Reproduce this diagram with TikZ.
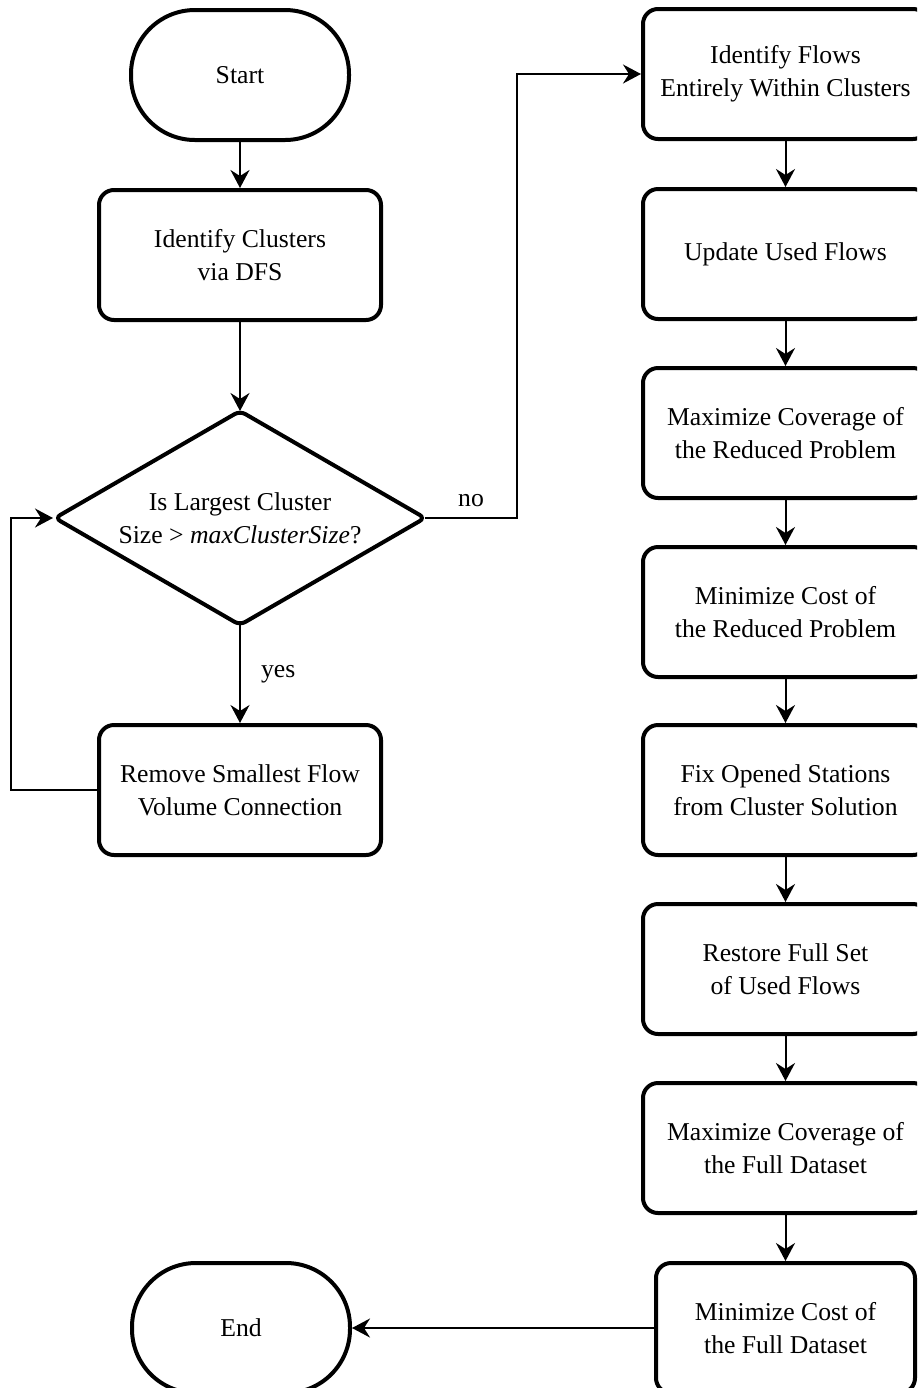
\documentclass[tikz,border=0pt]{standalone}
\usepackage{fontspec}
\setmainfont{Liberation Serif}
\usetikzlibrary{arrows.meta,shapes.geometric}

\begin{document}
\begin{tikzpicture}[
  x=0.5pt, y=-0.5pt,
  font=\fontsize{12.85}{16.5}\selectfont,
  proc/.style={draw=black, line width=2pt, fill=white, rounded corners=7.5pt,
               minimum width=141pt, minimum height=65pt, align=center, inner sep=0pt},
  widebox/.style={proc, minimum width=142.5pt},
  term/.style={proc, rounded corners=32pt, minimum width=109pt},
  decide/.style={draw=black, line width=2pt, fill=white, diamond, aspect=1.73,
                 rounded corners=3pt, minimum width=185pt, minimum height=107pt,
                 align=center, inner sep=0pt, outer sep=0pt},
  arr/.style={-{Stealth[length=9pt,width=9.5pt,inset=3pt]}, line width=1pt},
  lbl/.style={inner sep=0pt},
]
\useasboundingbox (0,0) rectangle (917,1388);
\clip (0,0) rectangle (917,1388);

% ======================= left column =======================
\node[term]   (S)  at (240,75)   {Start};
\node[proc]   (C)  at (240,255)  {Identify Clusters\\via DFS};
\node[decide] (D)  at (240,518)  {Is Largest Cluster\\Size > \textit{maxClusterSize}?};
\node[proc]   (R)  at (240,790)  {Remove Smallest Flow\\Volume Connection};
\node[term]   (E)  at (241,1328) {End};

% ======================= right column =======================
\node[widebox] (F1) at (785.5,74)   {Identify Flows\\Entirely Within Clusters};
\node[widebox] (F2) at (785.5,254)  {Update Used Flows};
\node[widebox] (F3) at (785.5,433)  {Maximize Coverage of\\the Reduced Problem};
\node[widebox] (F4) at (785.5,612)  {Minimize Cost of\\the Reduced Problem};
\node[widebox] (F5) at (785.5,790)  {Fix Opened Stations\\from Cluster Solution};
\node[widebox] (F6) at (785.5,969)  {Restore Full Set\\of Used Flows};
\node[widebox] (F7) at (785.5,1148) {Maximize Coverage of\\the Full Dataset};
\node[proc, minimum width=129.5pt] (F8) at (785.5,1328) {Minimize Cost of\\the Full Dataset};

% ======================= edges =======================
\draw[arr] (S.south) -- (C.north);
\draw[arr] (C.south) -- (D.north);
\draw[arr] (D.south) -- node[lbl,right=10pt]{yes} (R.north);

% loop back to the decision
\draw[arr, shorten >=1pt] (R.west) -- ++(-86,0) |- (D.west);

% no -> cluster solution chain
\draw[arr] (D.east) -- node[lbl,above=5pt]{no} ++(92,0) |- (F1.west);
\foreach \a/\b in {F1/F2,F2/F3,F3/F4,F4/F5,F5/F6,F6/F7,F7/F8}
  \draw[arr] (\a.south) -- (\b.north);

\draw[arr] (F8.west) -- (E.east);
\end{tikzpicture}
\end{document}
